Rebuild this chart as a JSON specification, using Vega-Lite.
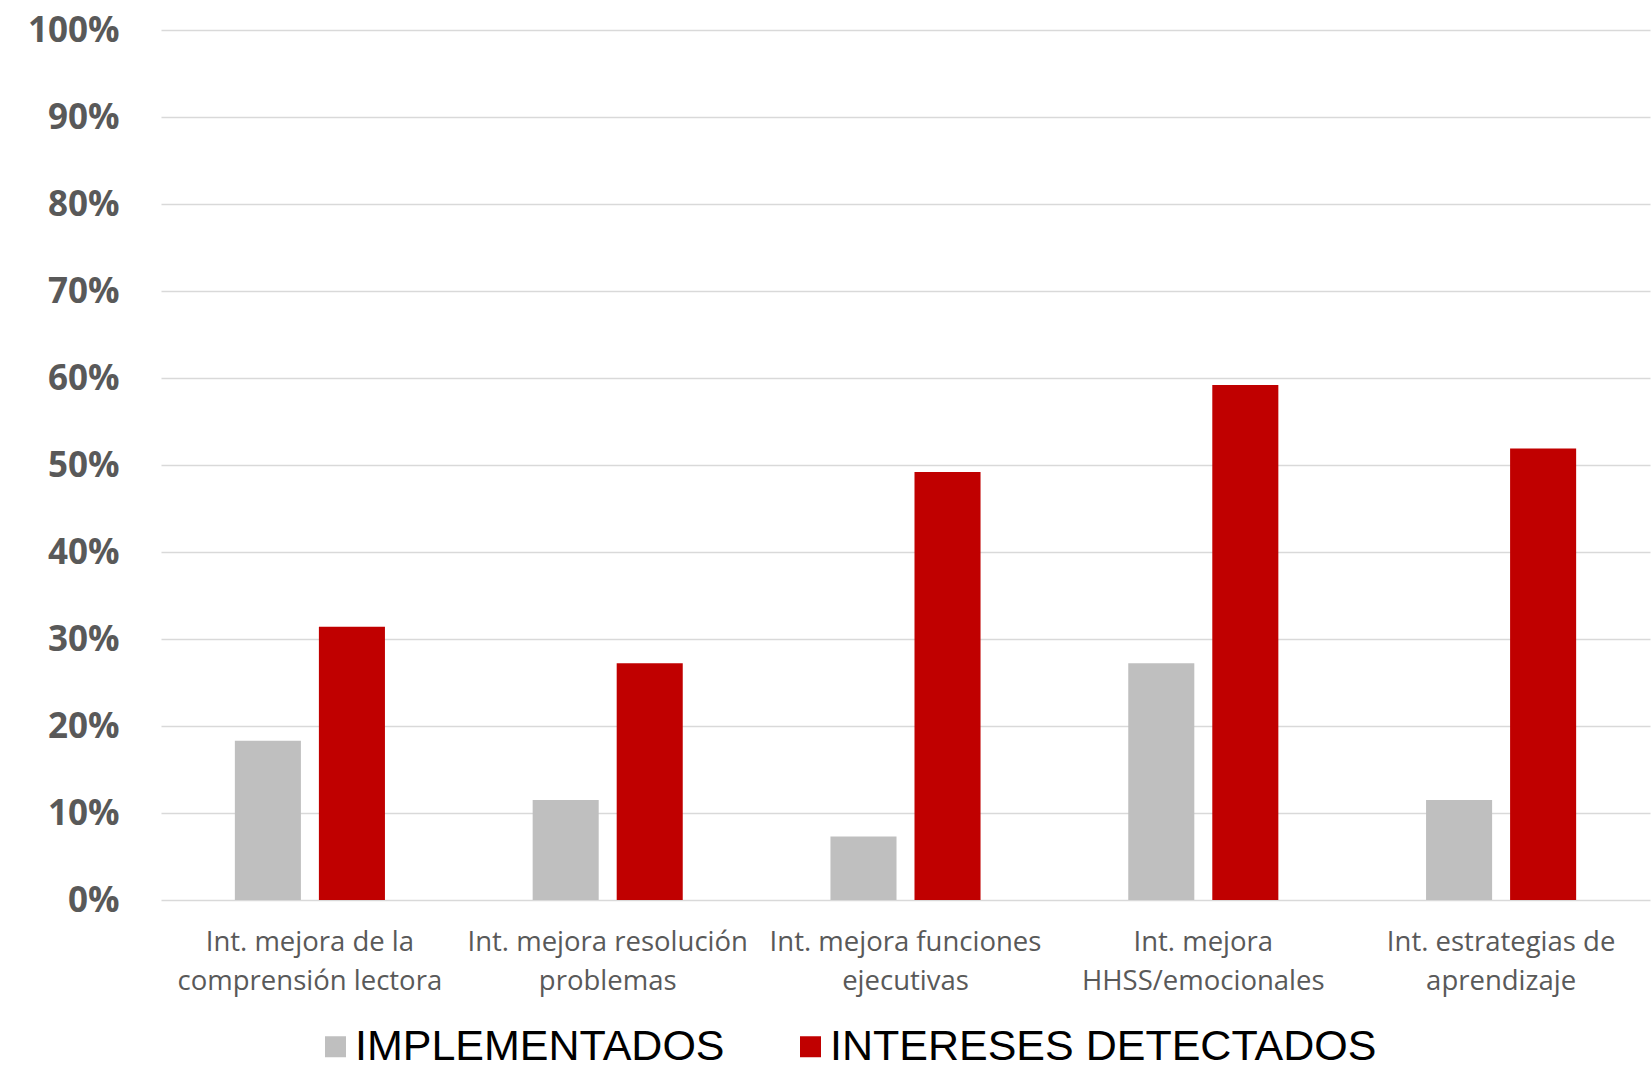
{
  "$schema": "https://vega.github.io/schema/vega-lite/v6.json",
  "autosize": "none",
  "width": 1489,
  "height": 870,
  "padding": {"left": 161, "top": 30, "right": 2, "bottom": 174},
  "background": "white",
  "data": {
    "values": [
      {"categoria": "Int. mejora de la comprensión lectora", "serie": "IMPLEMENTADOS", "valor": 0.183},
      {"categoria": "Int. mejora de la comprensión lectora", "serie": "INTERESES DETECTADOS", "valor": 0.314},
      {"categoria": "Int. mejora resolución problemas", "serie": "IMPLEMENTADOS", "valor": 0.115},
      {"categoria": "Int. mejora resolución problemas", "serie": "INTERESES DETECTADOS", "valor": 0.272},
      {"categoria": "Int. mejora funciones ejecutivas", "serie": "IMPLEMENTADOS", "valor": 0.073},
      {"categoria": "Int. mejora funciones ejecutivas", "serie": "INTERESES DETECTADOS", "valor": 0.492},
      {"categoria": "Int. mejora HHSS/emocionales", "serie": "IMPLEMENTADOS", "valor": 0.272},
      {"categoria": "Int. mejora HHSS/emocionales", "serie": "INTERESES DETECTADOS", "valor": 0.592},
      {"categoria": "Int. estrategias de aprendizaje", "serie": "IMPLEMENTADOS", "valor": 0.115},
      {"categoria": "Int. estrategias de aprendizaje", "serie": "INTERESES DETECTADOS", "valor": 0.519}
    ]
  },
  "mark": {"type": "bar", "stroke": null},
  "encoding": {
    "x": {
      "field": "categoria",
      "type": "nominal",
      "sort": null,
      "scale": {"paddingInner": 0.496, "paddingOuter": 0.248},
      "axis": {
        "title": null,
        "labelAngle": 0,
        "domain": false,
        "ticks": false,
        "labelFont": "Open Sans",
        "labelFontSize": 27.5,
        "labelColor": "#595959",
        "labelLineHeight": 39,
        "labelBaseline": "top",
        "labelPadding": 28,
        "labelLimit": 400,
        "labelExpr": "datum.label == 'Int. mejora de la comprensión lectora' ? ['Int. mejora de la', 'comprensión lectora'] : datum.label == 'Int. mejora resolución problemas' ? ['Int. mejora resolución', 'problemas'] : datum.label == 'Int. mejora funciones ejecutivas' ? ['Int. mejora funciones', 'ejecutivas'] : datum.label == 'Int. mejora HHSS/emocionales' ? ['Int. mejora', 'HHSS/emocionales'] : ['Int. estrategias de', 'aprendizaje']"
      }
    },
    "xOffset": {
      "field": "serie",
      "type": "nominal",
      "sort": ["IMPLEMENTADOS", "INTERESES DETECTADOS"],
      "scale": {"paddingInner": 0.214, "paddingOuter": 0}
    },
    "y": {
      "field": "valor",
      "type": "quantitative",
      "scale": {"domain": [0, 1], "nice": false},
      "axis": {
        "title": null,
        "values": [0, 0.1, 0.2, 0.3, 0.4, 0.5, 0.6, 0.7, 0.8, 0.9, 1],
        "format": ".0%",
        "domain": false,
        "ticks": false,
        "grid": true,
        "gridColor": "#d9d9d9",
        "gridWidth": 1.6,
        "labelFont": "Open Sans",
        "labelFontWeight": "bold",
        "labelFontSize": 35,
        "labelColor": "#595959",
        "labelPadding": 42
      }
    },
    "color": {
      "field": "serie",
      "type": "nominal",
      "sort": ["IMPLEMENTADOS", "INTERESES DETECTADOS"],
      "scale": {"domain": ["IMPLEMENTADOS", "INTERESES DETECTADOS"], "range": ["#bfbfbf", "#c00000"]},
      "legend": {
        "title": null,
        "orient": "none",
        "legendX": 153,
        "legendY": 995,
        "direction": "horizontal",
        "symbolType": "square",
        "symbolSize": 441,
        "symbolStrokeWidth": 0,
        "symbolOpacity": 1,
        "labelFont": "Liberation Sans",
        "labelFontSize": 43,
        "labelColor": "#000000",
        "labelOffset": -2,
        "columnPadding": 64,
        "labelLimit": 800
      }
    }
  },
  "config": {
    "view": {"stroke": null}
  }
}
